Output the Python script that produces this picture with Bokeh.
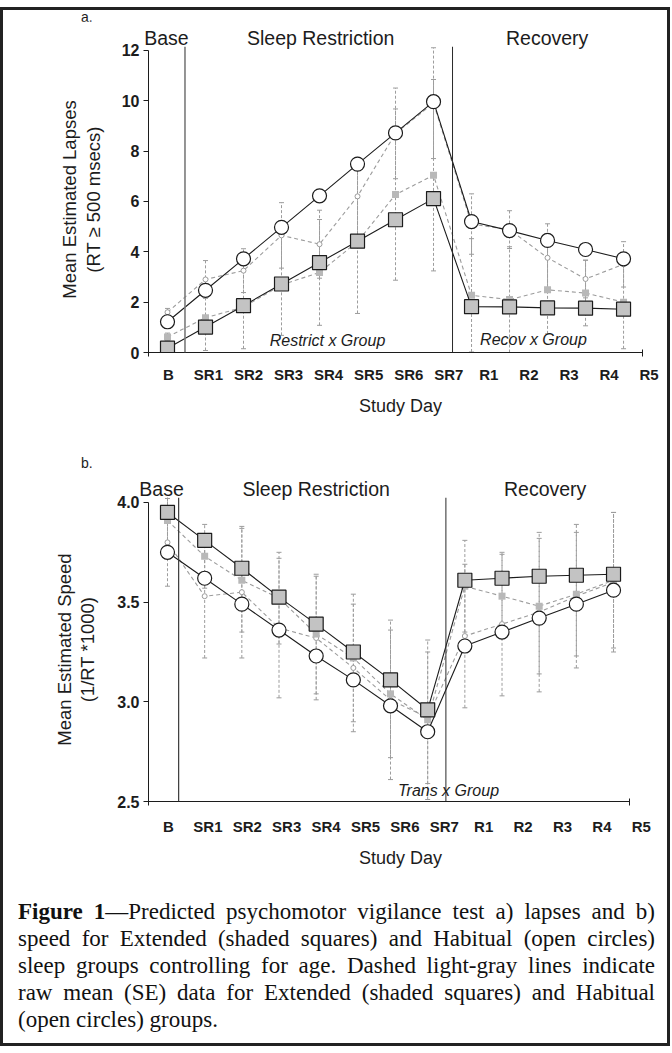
import numpy as np
from bokeh.plotting import figure
from bokeh.models import (Range1d, LinearAxis, FixedTicker, Span, Label, Div,
                          NumeralTickFormatter)
from bokeh.layouts import column
from bokeh.embed import file_html
from bokeh.resources import INLINE

# ---------------- data ----------------
days = ["B", "SR1", "SR2", "SR3", "SR4", "SR5", "SR6", "SR7", "R1", "R2", "R3", "R4", "R5"]
phases = ["Base", "Sleep Restriction", "Recovery"]
phase_centers_a = [-0.03, 4.03, 9.99]
phase_centers_b = [-0.16, 4.0, 10.16]

# a) lapses
lapse_ticks = [0, 2, 4, 6, 8, 10, 12]
lapse_model_hab = [1.22, 2.47, 3.72, 4.97, 6.22, 7.48, 8.72, 9.96, 5.20, 4.84, 4.45, 4.09, 3.72]
lapse_model_ext = [0.17, 1.01, 1.86, 2.72, 3.57, 4.42, 5.27, 6.11, 1.82, 1.81, 1.77, 1.76, 1.72]
lapse_raw_hab = [1.60, 2.90, 3.25, 4.65, 4.30, 6.20, 8.70, 9.90, 5.10, 4.88, 3.76, 2.92, 3.50]
lapse_se_hab = [0.15, 0.75, 0.87, 1.30, 1.35, 1.55, 1.80, 2.20, 1.20, 0.75, 1.35, 0.75, 0.90]
lapse_raw_ext = [0.62, 1.38, 1.80, 2.68, 3.18, 4.40, 6.27, 7.04, 2.27, 2.10, 2.49, 2.36, 2.00]
lapse_se_ext = [0.15, 1.30, 1.65, 2.00, 2.10, 2.85, 3.40, 3.80, 2.25, 2.10, 1.75, 1.30, 1.85]
lapse_breaks = [0.46, 7.5]

# b) speed
speed_ticks = [2.5, 3.0, 3.5, 4.0]
speed_model_ext = [3.95, 3.81, 3.67, 3.525, 3.39, 3.25, 3.11, 2.96, 3.61, 3.62, 3.63, 3.635, 3.64]
speed_model_hab = [3.75, 3.62, 3.49, 3.36, 3.23, 3.11, 2.98, 2.85, 3.28, 3.35, 3.42, 3.49, 3.56]
speed_raw_ext = [3.91, 3.73, 3.61, 3.52, 3.34, 3.22, 3.04, 2.91, 3.58, 3.53, 3.48, 3.54, 3.61]
speed_se_ext = [0.12, 0.16, 0.26, 0.23, 0.30, 0.32, 0.32, 0.40, 0.23, 0.21, 0.34, 0.31, 0.34]
speed_raw_hab = [3.80, 3.53, 3.55, 3.37, 3.32, 3.17, 3.01, 2.92, 3.33, 3.39, 3.45, 3.53, 3.60]
speed_se_hab = [0.22, 0.31, 0.33, 0.35, 0.31, 0.32, 0.40, 0.33, 0.36, 0.36, 0.40, 0.36, 0.35]
speed_breaks = [0.30, 7.49]

caption_lines = [
    "<b>Figure 1</b>\u2014Predicted psychomotor vigilance test a) lapses and b)",
    "speed for Extended (shaded squares) and Habitual (open circles)",
    "sleep groups controlling for age. Dashed light-gray lines indicate",
    "raw mean (SE) data for Extended (shaded squares) and Habitual",
    "(open circles) groups.",
]

# ---------------- style ----------------
SANS = "Liberation Sans"
SERIF = "Liberation Serif"
INK = "#1c1c1c"
RAW = "#9c9c9c"
SQ_FILL = "#c3c3c3"
W = 664


def build_panel(height, borders, xr, labr, lab_bounds, yr, ybounds, yticks, ylabel,
                mext, mhab, rext, sext, rhab, shab, breaks, break_colors,
                centers, notes, lab_standoff, ylab_standoff, yfmt=None):
    p = figure(width=W, height=height, x_range=Range1d(*xr), y_range=Range1d(*yr),
               x_axis_type=None, y_axis_type=None, toolbar_location=None,
               output_backend="svg",
               min_border_left=borders[0], min_border_right=borders[1],
               min_border_top=borders[2], min_border_bottom=borders[3])
    p.outline_line_color = None
    p.background_fill_color = "white"
    p.border_fill_color = "white"
    p.extra_x_ranges = {"lab": Range1d(*labr)}

    x = np.arange(len(days))

    # phase separators
    for b, c in zip(breaks, break_colors):
        p.add_layout(Span(location=b, dimension="height", line_color=c[0], line_width=c[1]))

    # raw means with SE bars
    for raw, se in ((rhab, shab), (rext, sext)):
        raw = np.array(raw)
        se = np.array(se)
        lo, hi = raw - se, raw + se
        p.segment(x0=x, y0=lo, x1=x, y1=hi, line_color=RAW, line_dash="3 2", line_width=1)
        p.scatter(x=np.concatenate([x, x]), y=np.concatenate([lo, hi]), marker="dash",
                  size=5, line_color=RAW, line_width=1)
    p.line(x, rhab, line_color=RAW, line_dash="4 3", line_width=1.1)
    p.line(x, rext, line_color=RAW, line_dash="4 3", line_width=1.1)
    p.scatter(x, rhab, marker="circle", size=5, fill_color="white", line_color=RAW, line_width=1)
    p.scatter(x, rext, marker="square", size=7, fill_color="#b8b8b8", line_color=None)

    # model predictions
    p.line(x, mhab, line_color=INK, line_width=1.1)
    p.line(x, mext, line_color=INK, line_width=1.1)
    p.scatter(x, mext, marker="square", size=14, fill_color=SQ_FILL, line_color=INK, line_width=1.2)
    p.scatter(x, mhab, marker="circle", size=14, fill_color="white", line_color=INK, line_width=1.2)

    # x axis: line with end ticks (minor) and day labels (major)
    la = LinearAxis(x_range_name="lab",
                    ticker=FixedTicker(ticks=list(range(len(days))), minor_ticks=list(lab_bounds)),
                    bounds=lab_bounds,
                    major_label_overrides={i: d for i, d in enumerate(days)},
                    axis_line_color=INK, major_tick_line_color=None,
                    major_tick_in=0, major_tick_out=0,
                    minor_tick_line_color=INK, minor_tick_in=3, minor_tick_out=4,
                    major_label_standoff=lab_standoff, major_label_text_font=SANS,
                    major_label_text_font_style="bold", major_label_text_font_size="15px",
                    major_label_text_color=INK,
                    axis_label="Study Day", axis_label_text_font=SANS,
                    axis_label_text_font_style="normal", axis_label_text_font_size="18px",
                    axis_label_text_color=INK, axis_label_standoff=10)
    p.add_layout(la, "below")

    # phase headers as an axis above the frame
    ha = LinearAxis(ticker=FixedTicker(ticks=centers),
                    major_label_overrides={c: n for c, n in zip(centers, phases)},
                    axis_line_color=None, major_tick_line_color=None, minor_tick_line_color=None,
                    major_tick_in=0, major_tick_out=0, minor_tick_in=0, minor_tick_out=0,
                    major_label_standoff=-2, major_label_text_font=SANS,
                    major_label_text_font_style="normal", major_label_text_font_size="19.5px",
                    major_label_text_color=INK)
    p.add_layout(ha, "above")

    ya = LinearAxis(ticker=FixedTicker(ticks=yticks), bounds=ybounds,
                    major_tick_in=0, major_tick_out=5, minor_tick_in=0, minor_tick_out=0,
                    axis_line_color=INK, major_tick_line_color=INK,
                    major_label_standoff=4, major_label_text_font=SANS,
                    major_label_text_font_style="bold", major_label_text_font_size="16px",
                    major_label_text_color=INK,
                    axis_label=ylabel, axis_label_text_font=SANS,
                    axis_label_text_font_style="normal", axis_label_text_font_size="18.5px",
                    axis_label_text_color=INK, axis_label_standoff=ylab_standoff,
                    axis_label_text_line_height=1.12)
    if yfmt:
        ya.formatter = yfmt
    p.add_layout(ya, "left")

    # effect notes
    for txt, nx, ny in notes:
        p.add_layout(Label(x=nx, y=ny, text=txt, text_font=SANS, text_font_style="italic",
                           text_font_size="16px", text_color=INK, text_align="center",
                           text_baseline="middle"))
    return p


def tag_div(tag, height, pad_top, line_h):
    html = ('<div style="margin-left:78px;padding-top:%dpx;font-family:\'%s\';font-size:14px;'
            'line-height:%dpx;color:%s;">%s</div>' % (pad_top, SANS, line_h, INK, tag))
    return Div(text=html, width=W, height=height, margin=0)


tag_a = tag_div("a.", 11, 0, 11)

fig_a = build_panel(
    424, (142, 15, 25, 93),
    (-0.5, -0.5 + 507 / 38.23), (-0.496, -0.496 + 507 / 40.3), (-0.496, -0.496 + 497 / 40.3),
    (0, 12.15), (0, 12), lapse_ticks,
    "Mean Estimated Lapses\n(RT \u2265 500 msecs)",
    lapse_model_ext, lapse_model_hab, lapse_raw_ext, lapse_se_ext, lapse_raw_hab, lapse_se_hab,
    lapse_breaks, [("#7a7a7a", 1.6), ("#2a2a2a", 1.0)],
    phase_centers_a,
    [("Restrict x Group", 4.21, 0.48), ("Recov x Group", 9.63, 0.52)],
    9, 15)

tag_b = tag_div("b.", 27, 11, 14)

fig_b = build_panel(
    406, (145, 15, 25, 77),
    (-0.511, -0.511 + 504 / 37.17), (-0.5076, -0.5076 + 504 / 39.4), (-0.5076, -0.5076 + 481 / 39.4),
    (2.5, 4.025), (2.5, 4.0), speed_ticks,
    "Mean Estimated Speed\n(1/RT *1000)",
    speed_model_ext, speed_model_hab, speed_raw_ext, speed_se_ext, speed_raw_hab, speed_se_hab,
    speed_breaks, [("#3a3a3a", 1.2), ("#2a2a2a", 1.0)],
    phase_centers_b,
    [("Trans x Group", 7.56, 2.555)],
    12, 16,
    yfmt=NumeralTickFormatter(format="0.0"))

rows = []
for i, ln in enumerate(caption_lines):
    last = i == len(caption_lines) - 1
    align = "text-align:left;" if last else "text-align:justify;text-align-last:justify;"
    rows.append('<div style="%s">%s</div>' % (align, ln))
cap_html = ('<div style="width:637px;margin-left:15px;padding-top:20px;font-family:\'%s\';'
            'font-size:23px;line-height:27px;color:#111;">%s</div>' % (SERIF, "".join(rows)))
cap = Div(text=cap_html, width=W, height=165, margin=0)

layout = column(tag_a, fig_a, tag_b, fig_b, cap, margin=(7, 0, 0, 0),
                styles={"border": "3px solid #222"})

open("out.html", "w").write(file_html(layout, INLINE))
